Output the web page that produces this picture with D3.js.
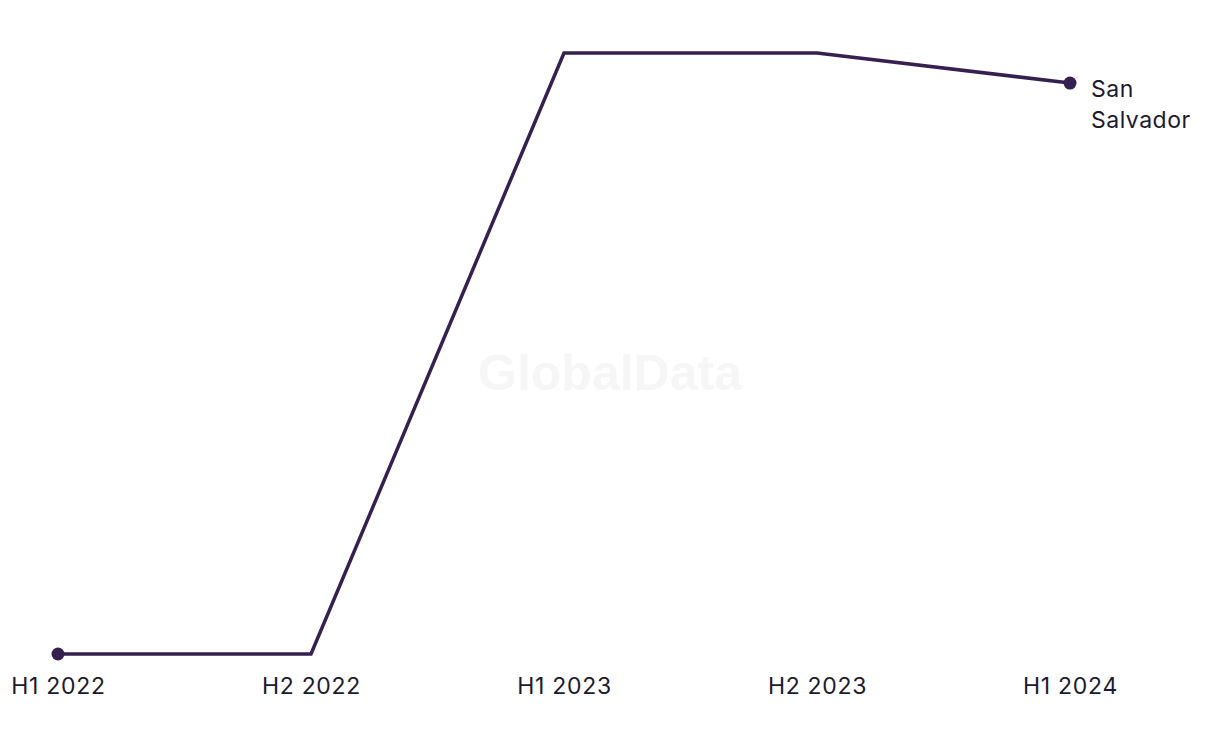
<!DOCTYPE html>
<html>
<head>
<meta charset="utf-8">
<script src="https://cdn.jsdelivr.net/npm/d3@7"></script>
<style>
  html, body { margin: 0; padding: 0; background: #ffffff; }
  svg { display: block; }
</style>
</head>
<body>
<svg id="chart" width="1220" height="744"></svg>
<script>
const categories = ["H1 2022", "H2 2022", "H1 2023", "H2 2023", "H1 2024"];
const values = [0, 0, 20, 20, 19];
const seriesName = ["San", "Salvador"];

const svg = d3.select("#chart");
const lineColor = "#35204f";
const textColor = "#1c1a2e";
const font = "Inter, 'Noto Sans', sans-serif";

// watermark
svg.append("text")
  .attr("x", 610).attr("y", 390)
  .attr("text-anchor", "middle")
  .attr("font-family", "'Liberation Sans', Arial, sans-serif")
  .attr("font-weight", "bold")
  .attr("font-size", 50)
  .attr("fill", "#f6f6f6")
  .text("GlobalData");

const x = d3.scalePoint().domain(categories).range([58, 1070]);
const y = d3.scaleLinear().domain([0, 20]).range([654, 53]);

const xAxis = svg.append("g")
  .attr("transform", "translate(0,654)")
  .call(d3.axisBottom(x).tickSize(0).tickPadding(24));
xAxis.select(".domain").remove();
xAxis.selectAll("text")
  .attr("font-family", font)
  .attr("font-size", 23)
  .attr("letter-spacing", "0.7px")
  .attr("fill", textColor)
  .attr("dy", "0.71em");

const line = d3.line()
  .x((d, i) => x(categories[i]))
  .y(d => y(d));

svg.append("path")
  .datum(values)
  .attr("d", line)
  .attr("fill", "none")
  .attr("stroke", lineColor)
  .attr("stroke-width", 3.5)
  .attr("stroke-linejoin", "miter");

const ends = [0, values.length - 1];
svg.selectAll("circle.end")
  .data(ends)
  .join("circle")
  .attr("class", "end")
  .attr("cx", i => x(categories[i]))
  .attr("cy", i => y(values[i]))
  .attr("r", 6.5)
  .attr("fill", lineColor);

const last = values.length - 1;
const lbl = svg.append("text")
  .attr("x", x(categories[last]) + 21)
  .attr("y", y(values[last]) + 6)
  .attr("font-family", font)
  .attr("font-size", 23)
  .attr("letter-spacing", "0.5px")
  .attr("fill", textColor);
seriesName.forEach((s, i) => {
  lbl.append("tspan")
    .attr("x", x(categories[last]) + 21)
    .attr("dy", i === 0 ? "0.35em" : 31)
    .text(s);
});
</script>
</body>
</html>
